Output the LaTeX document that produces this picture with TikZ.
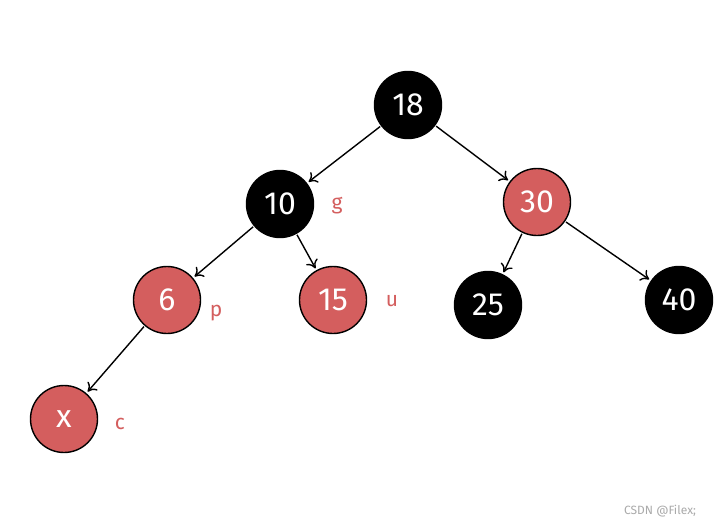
\documentclass[tikz,border=0pt]{standalone}
\usepackage{fontspec}
\setmainfont{Fira Sans}
\usetikzlibrary{arrows.meta}
\definecolor{rbred}{RGB}{212,94,94}
\definecolor{wmgray}{RGB}{170,170,170}
\begin{document}
\begin{tikzpicture}[x=1pt,y=-1pt,
  rbnode/.style={circle,draw=black,line width=1.4pt,minimum size=67pt,inner sep=0pt,text=white,font=\fontsize{32}{36}\selectfont},
  blk/.style={rbnode,fill=black},
  red/.style={rbnode,fill=rbred},
  tag/.style={text=rbred,font=\fontsize{21}{24}\selectfont},
  edge/.style={-{To[length=8pt,width=13pt]},line width=1.4pt,shorten >=2pt,shorten <=1pt}]
\useasboundingbox[fill=white] (0,0) rectangle (727,525);
\node[blk] (n18) at (408,105) {18};
\node[blk] (n10) at (280,204) {10};
\node[red] (n30) at (537,202) {30};
\node[red] (n6) at (167,300) {6};
\node[red] (n15) at (333,300) {15};
\node[blk] (n25) at (488,305) {25};
\node[blk] (n40) at (679,300) {40};
\node[red] (nx) at (64,419) {x};
\node[tag] (lg) at (337,206) {g};
\node[tag] (lp) at (216,313) {p};
\node[tag] (lu) at (392,301) {u};
\node[tag] (lc) at (120,424) {c};
\node[text=wmgray,font=\fontsize{12}{14}\selectfont] (wm) at (660,511) {CSDN @Filex;};
\draw[edge] (n18) -- (n10);
\draw[edge] (n18) -- (n30);
\draw[edge] (n10) -- (n6);
\draw[edge] (n10) -- (n15);
\draw[edge] (n30) -- (n25);
\draw[edge] (n30) -- (n40);
\draw[edge] (n6) -- (nx);
\end{tikzpicture}
\end{document}
